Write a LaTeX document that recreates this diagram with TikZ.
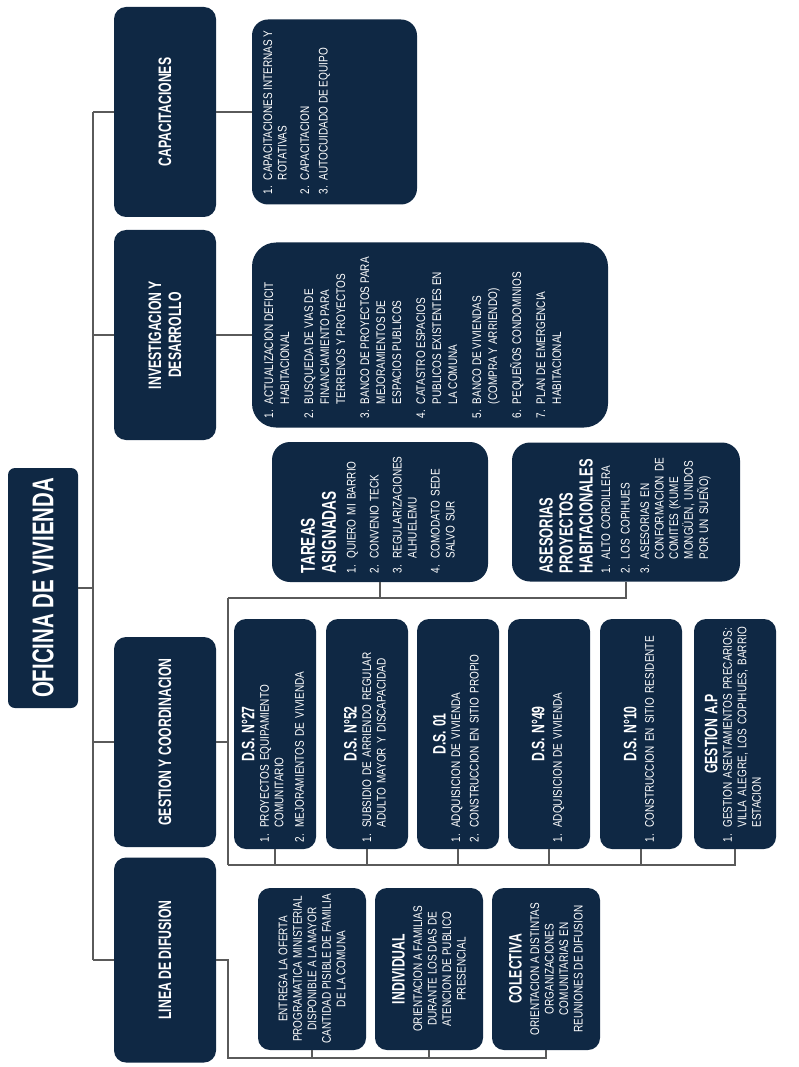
\documentclass[tikz,border=0pt]{standalone}
\usepackage{fontspec}
\setmainfont{Liberation Sans}[FakeStretch=0.8]
\newfontfamily\headfont{Liberation Sans}[FakeStretch=0.68]
\usetikzlibrary{positioning}
\definecolor{navy}{RGB}{15,40,68}
\definecolor{linegray}{RGB}{90,90,90}
\newcommand{\itemsize}{\normalfont\fontsize{12.5}{14.5}\selectfont}
\newcommand{\titlesize}{\headfont\bfseries\fontsize{18}{20}\selectfont}
\newcommand{\dshead}{\headfont\bfseries\fontsize{18}{20}\selectfont}
\newcommand{\numlist}[1]{\begin{tabular}{@{}l@{\hspace{6pt}}l@{}}#1\end{tabular}}

\begin{document}
\begin{tikzpicture}[x=1pt, y=1pt,
  box/.style={fill=navy, text=white, rotate=90, rounded corners=12pt, inner sep=0pt, align=center},
  head/.style={box, minimum width=210pt, minimum height=102pt, font=\titlesize},
  list/.style={box, align=left, font=\itemsize},
  dsbox/.style={list, minimum width=230pt, minimum height=82pt, text width=216pt},
  difbox/.style={box, minimum width=162pt, minimum height=108pt, font=\itemsize},
  ln/.style={draw=linegray, line width=1.1pt}]
\useasboundingbox (0,0) rectangle (798,-1067);

% raiz y primer nivel
\node[box, rounded corners=7pt, minimum width=240pt, minimum height=70pt,
      font=\headfont\bfseries\fontsize{30}{32}\selectfont] (root) at (43,-588) {OFICINA DE VIVIENDA};
\node[head] (cap) at (165,-112) {CAPACITACIONES};
\node[head] (inv) at (165,-335) {INVESTIGACION Y\\DESARROLLO};
\node[head] (ges) at (165,-742) {GESTION Y COORDINACION};
\node[head, minimum width=205pt] (lin) at (165,-960) {LINEA DE DIFUSION};

% detalle capacitaciones / investigacion
\node[list, rounded corners=16pt, minimum width=185pt, minimum height=165pt] (capd) at (334.5,-112)
  {\parbox[c][145pt][t]{165pt}{\itemsize\numlist{
   1. & CAPACITACIONES INTERNAS Y\\ & ROTATIVAS\\[8pt]
   2. & CAPACITACION\\[4pt]
   3. & AUTOCUIDADO DE EQUIPO}}};
\node[list, rounded corners=24pt, minimum width=185pt, minimum height=356pt] (invd) at (430,-335)
  {\parbox[c][336pt][t]{167pt}{\normalfont\fontsize{12.5}{16}\selectfont\numlist{
   1. & ACTUALIZACION DEFICIT\\ & HABITACIONAL\\[8pt]
   2. & BUSQUEDA DE VIAS DE\\ & FINANCIAMIENTO PARA\\ & TERRENOS Y PROYECTOS\\[8pt]
   3. & BANCO DE PROYECTOS PARA\\ & MEJORAMIENTOS DE\\ & ESPACIOS PUBLICOS\\[8pt]
   4. & CATASTRO ESPACIOS\\ & PUBLICOS EXISTENTES EN\\ & LA COMUNA\\[8pt]
   5. & BANCO DE VIVIENDAS\\ & (COMPRA Y ARRIENDO)\\[8pt]
   6. & PEQUEÑOS CONDOMINIOS\\[8pt]
   7. & PLAN DE EMERGENCIA\\ & HABITACIONAL}}};

% gestion: tareas y asesorias
\node[list, rounded corners=18pt, minimum width=140pt, minimum height=216pt, text width=122pt] (tar) at (380,-512)
  {\headfont\bfseries\fontsize{20}{21}\selectfont TAREAS\\ASIGNADAS\\[8pt]
   \normalfont\fontsize{12.5}{15}\selectfont\numlist{1. & QUIERO MI BARRIO\\[8pt] 2. & CONVENIO TECK\\[8pt]
   3. & REGULARIZACIONES\\ & ALHUELEMU\\[8pt] 4. & COMODATO SEDE\\ & SALVO SUR}};
\node[list, rounded corners=18pt, minimum width=139pt, minimum height=228pt, text width=123pt] (ase) at (626,-512)
  {\headfont\bfseries\fontsize{19}{20}\selectfont ASESORIAS\\PROYECTOS\\HABITACIONALES\\[6pt]
   \itemsize\numlist{1. & ALTO CORDILLERA\\[5pt] 2. & LOS COPIHUES\\[5pt]
   3. & ASESORIAS EN\\ & CONFORMACION DE\\ & COMITES (KUME\\ & MONGÜEN, UNIDOS\\ & POR UN SUEÑO)}};

% gestion: decretos
\node[dsbox] (ds27) at (275,-734) {\makebox[216pt]{\dshead D.S. N°27}\\[3pt]
  \itemsize\numlist{1. & PROYECTOS EQUIPAMIENTO\\ & COMUNITARIO\\[6pt] 2. & MEJORAMIENTOS DE VIVIENDA}};
\node[dsbox] (ds52) at (367,-734) {\makebox[216pt]{\dshead D.S. N°52}\\[3pt]
  \itemsize\numlist{1. & SUBSIDIO DE ARRIENDO REGULAR\\ & ADULTO MAYOR Y DISCAPACIDAD}};
\node[dsbox] (ds01) at (458,-734) {\makebox[216pt]{\dshead D.S. 01}\\[3pt]
  \itemsize\numlist{1. & ADQUISICION DE VIVIENDA\\[4pt] 2. & CONSTRUCCION EN SITIO PROPIO}};
\node[dsbox] (ds49) at (549,-734) {\makebox[216pt]{\dshead D.S. N°49}\\[3pt]
  \itemsize\numlist{1. & ADQUISICION DE VIVIENDA}};
\node[dsbox] (ds10) at (641,-734) {\makebox[216pt]{\dshead D.S. N°10}\\[3pt]
  \itemsize\numlist{1. & CONSTRUCCION EN SITIO RESIDENTE}};
\node[dsbox] (gap) at (735,-734) {\makebox[216pt]{\dshead GESTION A.P}\\[3pt]
  \itemsize\numlist{1. & GESTION ASENTAMIENTOS PRECARIOS:\\ & VILLA ALEGRE, LOS COPIHUES, BARRIO\\ & ESTACION}};

% linea de difusion
\node[difbox] (ent) at (312,-969) {ENTREGA LA OFERTA\\PROGRAMATICA MINISTERIAL\\DISPONIBLE A LA MAYOR\\CANTIDAD PISIBLE DE FAMILIA\\DE LA COMUNA};
\node[difbox] (ind) at (429,-969) {{\dshead INDIVIDUAL}\\[3pt]ORIENTACION A FAMILIAS\\DURANTE LOS DIAS DE\\ATENCION DE PUBLICO\\PRESENCIAL};
\node[difbox] (col) at (546,-969) {{\dshead COLECTIVA}\\[3pt]ORIENTACION A DISTINTAS\\ORGANIZACIONES\\COMUNITARIAS EN\\REUNIONES DE DIFUSION};

% conectores
\coordinate (bus) at (93,0);
\coordinate (gtop) at (228,-598);
\coordinate (gbot) at (228,-865);
\coordinate (ltop) at (228,-960);
\coordinate (lbot) at (228,-1058);
\draw[ln] (root) -- (root -| bus);
\draw[ln] (cap -| bus) -- (lin -| bus);
\foreach \n in {cap,inv,ges,lin} \draw[ln] (\n -| bus) -- (\n);
\draw[ln] (cap) -- (capd);
\draw[ln] (inv) -- (invd);
\draw[ln] (ges) -- (ges -| gtop);
\draw[ln] (gtop) -- (gbot);
\draw[ln] (gtop) -| (ase.west);
\draw[ln] (tar.west) -- (tar.west |- gtop);
\draw[ln] (gbot) -| (gap.west);
\foreach \n in {ds27,ds52,ds01,ds49,ds10} \draw[ln] (\n.west) -- (\n.west |- gbot);
\draw[ln] (lin) -- (ltop) -- (lbot) -| (col.west);
\draw[ln] (ent.west) -- (ent.west |- lbot);
\draw[ln] (ind.west) -- (ind.west |- lbot);
\end{tikzpicture}
\end{document}
